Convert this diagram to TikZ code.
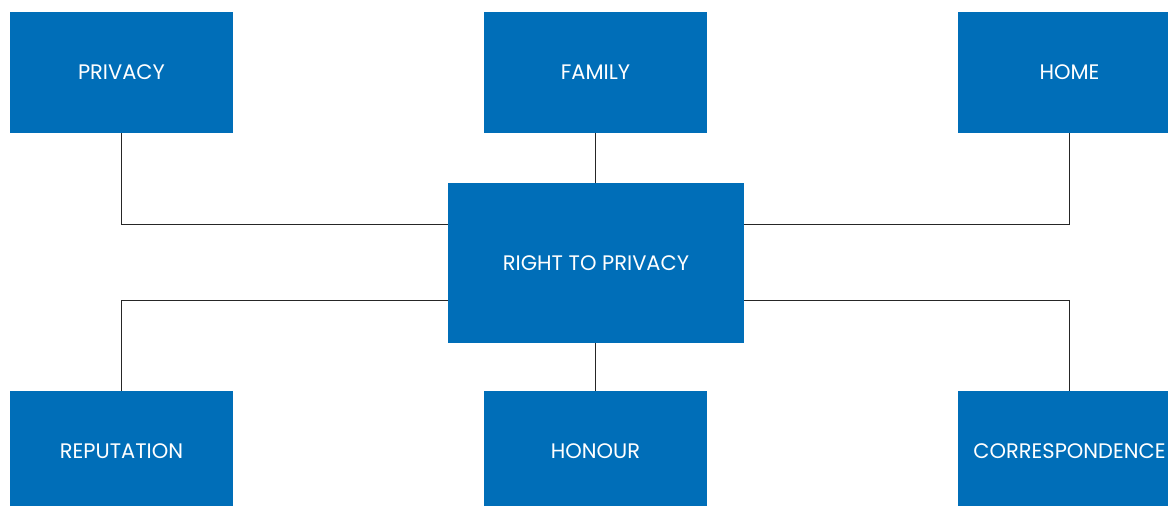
\documentclass[tikz,border=0pt]{standalone}
\usepackage{fontspec}
\setmainfont{Poppins}
\usepackage{tikz}
\definecolor{boxblue}{RGB}{0,110,184}
\tikzset{
  topic/.style={fill=boxblue, text=white, minimum width=223pt, minimum height=121pt, inner sep=0pt, font=\fontsize{21}{24}\selectfont},
  link/.style={draw=black!85, line width=1pt}
}

\begin{document}
\begin{tikzpicture}[x=1pt,y=1pt]
                    \useasboundingbox (0,0) rectangle (1168,506);
                    \node[topic, minimum width=296pt, minimum height=160pt] (centre) at (596,243) {RIGHT TO PRIVACY};
                    \node[topic] (privacy) at (121.5,433.5) {PRIVACY};
                    \node[topic] (family) at (595.5,433.5) {FAMILY};
                    \node[topic] (home) at (1069.5,433.5) {HOME};
                    \node[topic] (reputation) at (121.5,54.5) {REPUTATION};
                    \node[topic] (honour) at (595.5,54.5) {HONOUR};
                    \node[topic] (corresp) at (1069.5,54.5) {CORRESPONDENCE};
                    \draw[link] (privacy.south) |- ([yshift=38pt]centre.west);
                    \draw[link] (home.south) |- ([yshift=38pt]centre.east);
                    \draw[link] (family.south) -- (centre.north -| family.south);
                    \draw[link] (reputation.north) |- ([yshift=-38pt]centre.west);
                    \draw[link] (corresp.north) |- ([yshift=-38pt]centre.east);
                    \draw[link] (honour.north) -- (centre.south -| honour.north);
               \end{tikzpicture}
\end{document}
